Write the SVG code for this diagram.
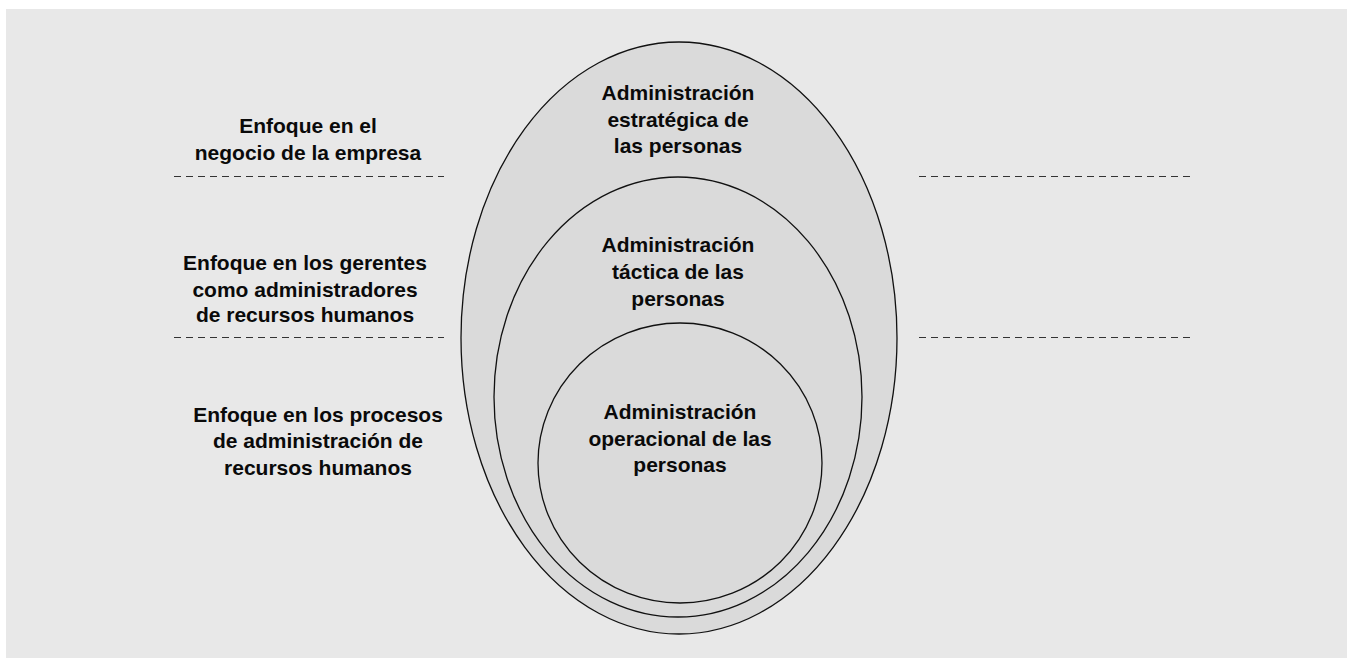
<svg xmlns="http://www.w3.org/2000/svg" width="1347" height="658" viewBox="0 0 1347 658">
<style>
.bg{fill:#e8e8e8}
.ell{fill:#dadada;stroke:#111;stroke-width:1.3}
.dash{stroke:#333;stroke-width:1.2;stroke-dasharray:7 5;fill:none}
text{font-family:"Liberation Sans",Arial,sans-serif;font-weight:bold;font-size:21px;fill:#0a0a0a;text-anchor:middle}
</style>
<rect x="0" y="0" width="1347" height="658" fill="#ffffff"/>
<rect class="bg" x="6" y="9" width="1341" height="649"/>
<g id="connectors">
<line class="dash" x1="174" y1="176.5" x2="444" y2="176.5"/>
<line class="dash" x1="174" y1="337.5" x2="444" y2="337.5"/>
<line class="dash" x1="919" y1="176.5" x2="1190" y2="176.5"/>
<line class="dash" x1="919" y1="337.5" x2="1190" y2="337.5"/>
</g>
<g id="estrategica">
<ellipse class="ell" cx="679" cy="338" rx="218" ry="296"/>
<text x="678" y="100">Administración</text>
<text x="678" y="127">estratégica de</text>
<text x="678" y="153">las personas</text>
</g>
<g id="tactica">
<ellipse class="ell" cx="678" cy="397" rx="184" ry="220"/>
<text x="678" y="252">Administración</text>
<text x="678" y="279">táctica de las</text>
<text x="678" y="306">personas</text>
</g>
<g id="operacional">
<ellipse class="ell" cx="680" cy="463" rx="142" ry="140"/>
<text x="680" y="419">Administración</text>
<text x="680" y="446">operacional de las</text>
<text x="680" y="472">personas</text>
</g>
<g id="label-negocio">
<text x="308" y="133">Enfoque en el</text>
<text x="308" y="160">negocio de la empresa</text>
</g>
<g id="label-gerentes">
<text x="305" y="270">Enfoque en los gerentes</text>
<text x="305" y="297">como administradores</text>
<text x="305" y="322">de recursos humanos</text>
</g>
<g id="label-procesos">
<text x="318" y="422">Enfoque en los procesos</text>
<text x="318" y="448">de administración de</text>
<text x="318" y="475">recursos humanos</text>
</g>
</svg>
